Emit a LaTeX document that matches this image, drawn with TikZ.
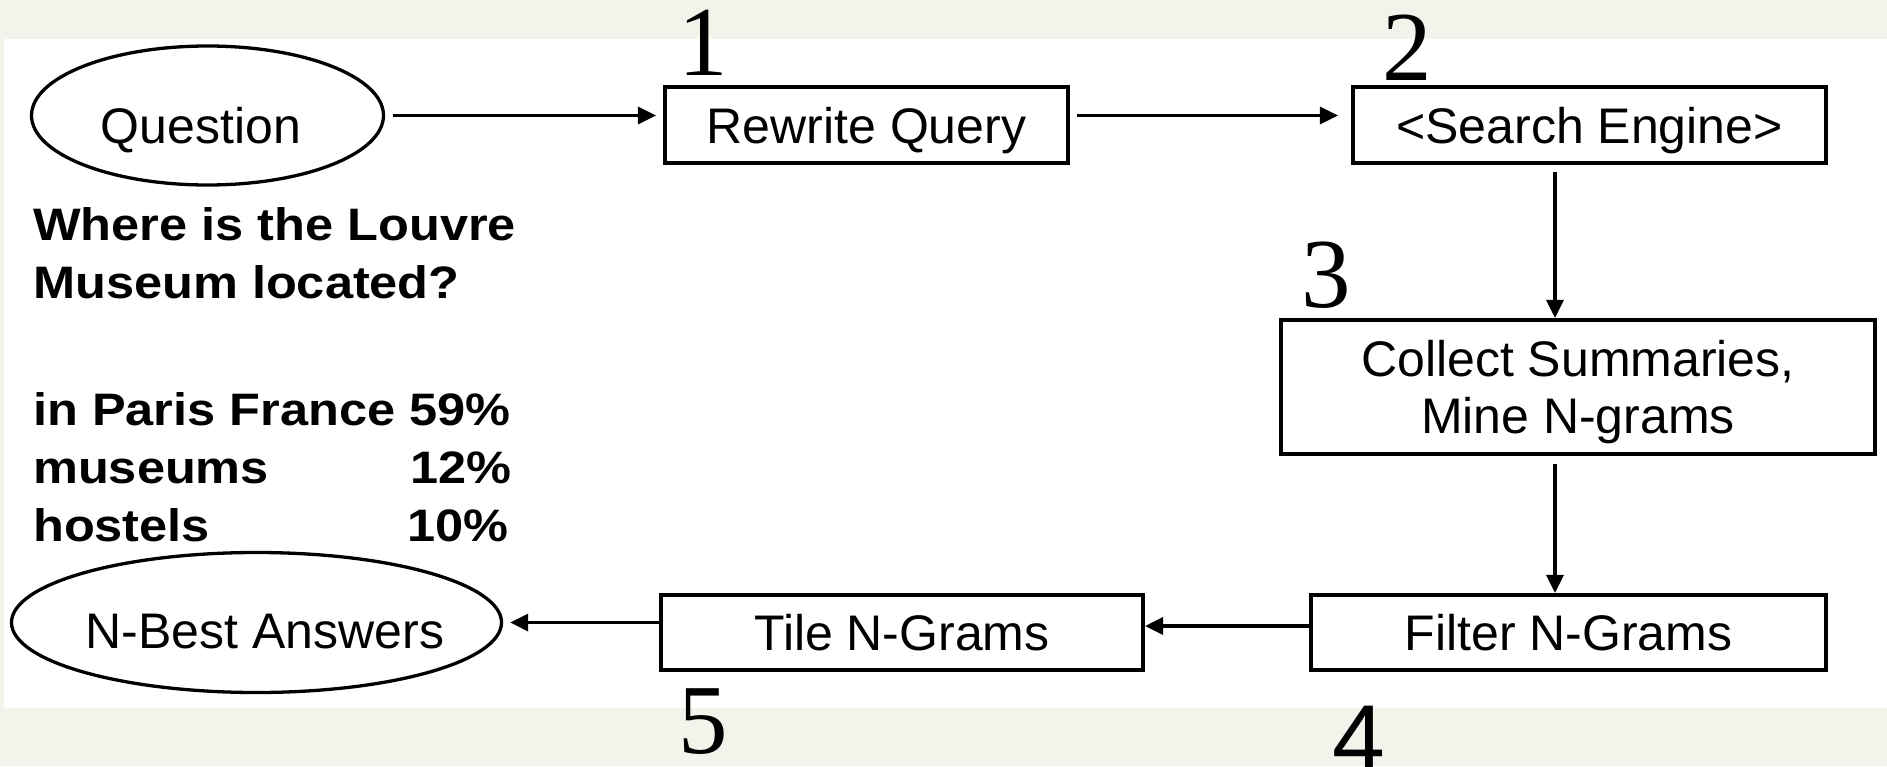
\documentclass[tikz,border=0pt]{standalone}
\usepackage{fontspec}
\setmainfont{Liberation Serif}
\setsansfont{Liberation Sans}
\usetikzlibrary{arrows.meta,shapes.geometric}
\definecolor{pagebg}{HTML}{F3F3EC}
% bold answer text is set slightly widened
\newcommand\widetxt[1]{\scalebox{1.11}[1]{#1}}
\begin{document}
\begin{tikzpicture}[x=1pt,y=-1pt,
  box/.style={draw=black, line width=3.6pt, rectangle, inner sep=0pt,
    font=\sffamily\fontsize{50}{57}\selectfont, text depth=0pt, align=center},
  oval/.style={draw=black, line width=3.3pt, ellipse, inner sep=0pt},
  lbl/.style={font=\sffamily\fontsize{50}{57}\selectfont, inner sep=0pt, anchor=base},
  boldtxt/.style={font=\sffamily\bfseries\fontsize{45.5}{50}\selectfont, inner sep=0pt},
  stepnum/.style={font=\rmfamily\fontsize{99}{99}\selectfont, inner sep=0pt, anchor=base},
  arr/.style={line width=3.2pt, -{Triangle[length=18pt,width=17pt]}},
]
% page and white panel
\useasboundingbox (0,0) rectangle (1887,766);
\fill[pagebg] (0,0) rectangle (1887,766);
\fill[white] (4,39) rectangle (1887,708);

% process boxes
\node[box, minimum width=403.5pt, minimum height=76.5pt] (rq) at (866.5,125) {Rewrite Query};
\node[box, minimum width=473.5pt, minimum height=76.5pt] (se) at (1589.5,125) {<Search Engine>};
\node[box, minimum width=594.5pt, minimum height=134.5pt] (cs) at (1578,387) {Collect Summaries,\\Mine N-grams};
\node[box, minimum width=515.5pt, minimum height=75.5pt] (fg) at (1568.5,632.5) {Filter N-Grams};
\node[box, minimum width=482.5pt, minimum height=75.5pt] (tn) at (902,632.5) {Tile N-Grams};

% input and output ovals
\node[oval, minimum width=352pt, minimum height=139pt] (q) at (207.5,115.5) {};
\node[lbl] (qt) at (201,143) {Question};
\node[oval, minimum width=490pt, minimum height=140pt] (nb) at (256.5,622.5) {};
\node[lbl] (nbt) at (265,648) {N-Best Answers};

% example question and ranked answers
\node[boldtxt, anchor=base west] (ex1) at (33,240) {\widetxt{Where is the Louvre}};
\node[boldtxt, anchor=base west] (ex2) at (33,298) {\widetxt{Museum located?}};
\node[boldtxt, anchor=base west] (a1) at (33,425) {\widetxt{in Paris France}};
\node[boldtxt, anchor=base west] (a2) at (33,483) {\widetxt{museums}};
\node[boldtxt, anchor=base west] (a3) at (33,541) {\widetxt{hostels}};
\node[boldtxt, anchor=base east] (p1) at (511,425) {\widetxt{59\%}};
\node[boldtxt, anchor=base east] (p2) at (512,483) {\widetxt{12\%}};
\node[boldtxt, anchor=base east] (p3) at (509,541) {\widetxt{10\%}};

% step numbers
\node[stepnum] (n1) at (703.5,75) {1};
\node[stepnum] (n2) at (1407,80) {2};
\node[stepnum] (n3) at (1326.5,307) {3};
\node[font=\sffamily\fontsize{95}{95}\selectfont, inner sep=0pt, anchor=base] (n4) at (1359,771) {4};
\node[stepnum] (n5) at (703.5,753) {5};

% flow
\draw[arr, shorten <=8pt, shorten >=7pt] (q.east) -- (q.east -| rq.west);
\draw[arr, shorten <=7pt, shorten >=13pt] (rq.east |- q.east) -- (se.west |- q.east);
\draw[arr, shorten <=7pt] ([xshift=-34.5pt]se.south) -- ([xshift=-34.5pt]se.south |- cs.north);
\draw[arr, shorten <=8pt] ([xshift=-23pt]cs.south) -- ([xshift=-23pt]cs.south |- fg.north);
\draw[arr] ([yshift=6.5pt]fg.west) -- ([yshift=6.5pt]fg.west -| tn.east);
\draw[arr, shorten >=7pt] (nb.east -| tn.west) -- (nb.east);
\end{tikzpicture}
\end{document}
